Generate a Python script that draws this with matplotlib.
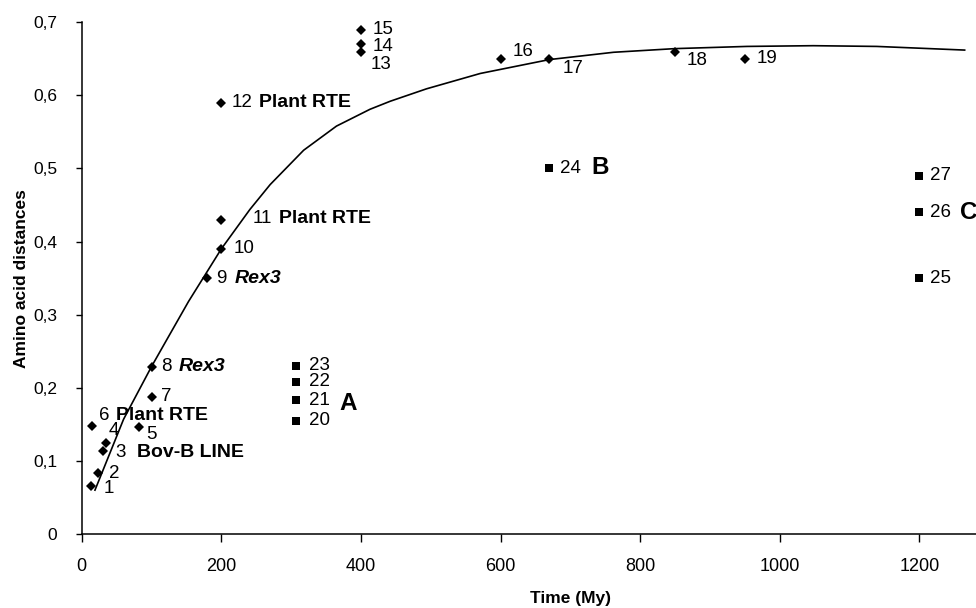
import numpy as np
import matplotlib.pyplot as plt
from matplotlib.ticker import FuncFormatter

plt.rcParams['font.family'] = ['Liberation Sans', 'DejaVu Sans']

# diamond series (ids 1-19)
dia_id = list(range(1, 20))
dia_x = [14, 24, 31, 35, 82, 15, 100, 100, 180, 200, 200, 200, 400, 400, 400, 600, 670, 850, 950]
dia_y = [0.065, 0.083, 0.113, 0.125, 0.146, 0.148, 0.188, 0.229, 0.35, 0.39, 0.43, 0.59,
         0.66, 0.67, 0.69, 0.65, 0.65, 0.66, 0.65]

# square series (ids 20-27)
sq_id = list(range(20, 28))
sq_x = [307, 307, 307, 307, 670, 1200, 1200, 1200]
sq_y = [0.155, 0.183, 0.208, 0.23, 0.50, 0.35, 0.44, 0.49]

# trend curve
curve_x = [19, 60, 100, 122, 153, 200, 241, 270, 318, 365, 413, 442, 494, 571, 670,
           762, 850, 953, 1048, 1139, 1265]
curve_y = [0.060, 0.157, 0.229, 0.266, 0.318, 0.390, 0.444, 0.478, 0.525, 0.558, 0.581,
           0.592, 0.609, 0.630, 0.649, 0.659, 0.664, 0.667, 0.668, 0.667, 0.662]

x_ticks = [0, 200, 400, 600, 800, 1000, 1200]
y_ticks = [0, 0.1, 0.2, 0.3, 0.4, 0.5, 0.6, 0.7]

# label offsets in pixels (dx to text start, dy down positive)
num_off = {1: (12, 2), 2: (11, 0), 3: (12, 1), 4: (2, -12), 5: (7, 7), 6: (7, -10),
           7: (10, 0), 8: (10, 0), 9: (9, 0), 10: (12, 0), 11: (31, -1), 12: (10, 0),
           13: (10, 13), 14: (12, 2), 15: (12, 0), 16: (12, -7), 17: (13, 10),
           18: (12, 9), 19: (12, 0),
           20: (13, 0), 21: (13, 0), 22: (13, 0), 23: (13, 0), 24: (11, 0),
           25: (11, 0), 26: (11, 0), 27: (11, 0)}
# extra names: id -> (text, dx from number start, style)
names = {6: ('Plant RTE', 17, 'normal'), 8: ('Rex3', 17, 'italic'), 9: ('Rex3', 18, 'italic'),
         11: ('Plant RTE', 27, 'normal'), 12: ('Plant RTE', 28, 'normal')}
groups = {21: ('A', 43, 3), 24: ('B', 42, -1), 26: ('C', 41, 0)}

fig = plt.figure(figsize=(9.76, 6.08), dpi=100)
ax = fig.add_axes([81.7 / 976, 74 / 608, 1400 * 0.698 / 976, 0.7 * 731 / 608])

ax.plot(curve_x, curve_y, color='black', lw=1.2, zorder=2)
ax.plot(dia_x, dia_y, 'D', color='black', ms=4.6, mew=0, zorder=3)
ax.plot(sq_x, sq_y, 's', color='black', ms=5.2, mew=0, zorder=3)

px = 0.72  # points per pixel
fs_num = 13.5
fs_name = 14


def label(x, y, txt, dx, dy, fontsize, **kw):
    ax.annotate(txt, (x, y), xytext=(dx * px, -dy * px), textcoords='offset points',
                ha='left', va='center', fontsize=fontsize, **kw)


for i, x, y in zip(dia_id + sq_id, dia_x + sq_x, dia_y + sq_y):
    dx, dy = num_off[i]
    label(x, y, str(i), dx, dy, fs_num)
    if i in names:
        t, ndx, st = names[i]
        label(x, y, t, dx + ndx, dy, fs_name, fontweight='bold', style=st)
    if i in groups:
        t, gdx, gdy = groups[i]
        label(x, y, t, gdx, gdy, 17.5, fontweight='bold')

ax.text(79, 0.112, 'Bov-B LINE', ha='left', va='center', fontsize=fs_name, fontweight='bold')

ax.set_xlim(0, 1400)
ax.set_ylim(0, 0.7)
ax.set_xticks(x_ticks)
ax.set_yticks(y_ticks)
ax.yaxis.set_major_formatter(FuncFormatter(lambda v, p: '0' if v == 0 else f'{v:.1f}'.replace('.', ',')))
ax.tick_params(axis='x', direction='out', length=6, width=1, labelsize=13, pad=11)
ax.tick_params(axis='y', direction='out', length=4.5, width=1, labelsize=12.5, pad=13)
for s in ['top', 'right']:
    ax.spines[s].set_visible(False)
for s in ['left', 'bottom']:
    ax.spines[s].set_linewidth(1.1)

ax.set_xlabel('Time (My)', fontsize=12.5, fontweight='bold', labelpad=12)
ax.set_ylabel('Amino acid distances', fontsize=12.5, fontweight='bold', labelpad=3)

fig.savefig('out.png', dpi=100)
